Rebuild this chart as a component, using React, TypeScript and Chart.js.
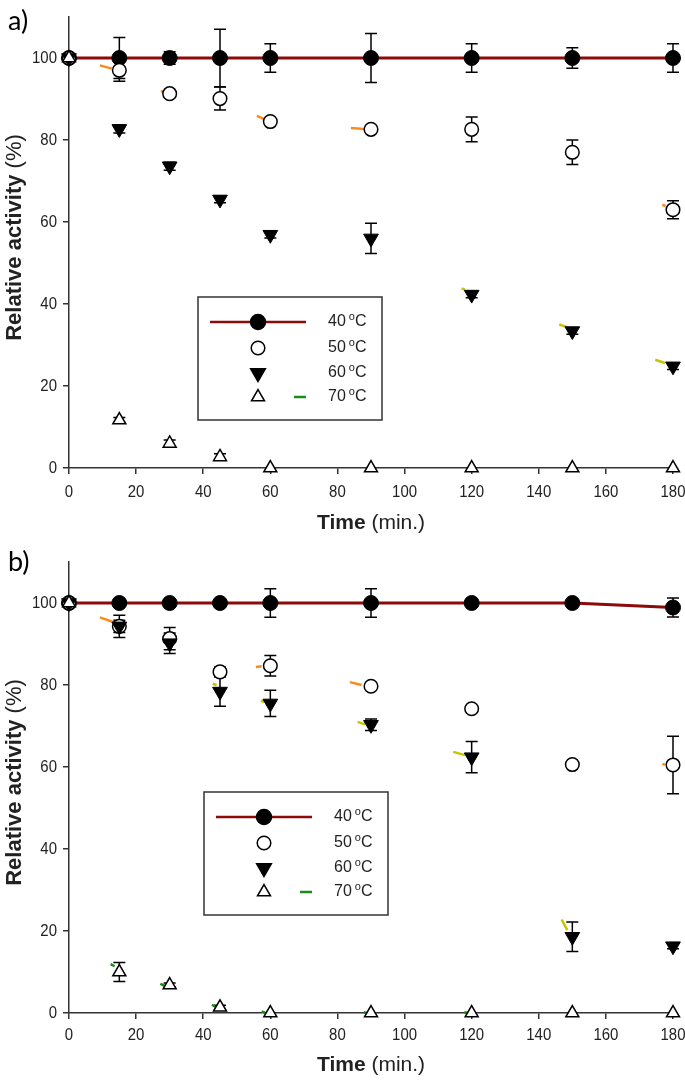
import React, { useEffect, useRef } from 'react';
import { Chart, registerables } from 'chart.js';
Chart.register(...registerables);

// ---------- data ----------
const times = [0, 15, 30, 45, 60, 90, 120, 150, 180];
const xTickValues = [0, 20, 40, 60, 80, 100, 120, 140, 160, 180];
const yTickValues = [0, 20, 40, 60, 80, 100];
const seriesTemps = ['40', '50', '60', '70'];

// panel a
const a40 = [100, 100, 100, 100, 100, 100, 100, 100, 100];
const a40Err = [0, 5, 1.5, 7, 3.5, 6, 3.5, 2.5, 3.5];
const a50 = [100, 97, 91.3, 90.1, 84.5, 82.6, 82.6, 77, 63];
const a50Err = [0, 2.7, 0.5, 2.8, 0.5, 0.5, 3, 3, 2.2];
const a60 = [100, 82.7, 73.6, 65.5, 56.9, 56, 42.3, 33.4, 24.8];
const a60Err = [0, 1, 1, 0.8, 0.8, 3.7, 0.8, 0.8, 0.8];
const a70 = [100, 11.7, 6, 2.7, 0, 0, 0, 0, 0];
const a70Err = [0, 0.6, 0.8, 0.8, 0, 0, 0, 0, 0];
// visible fragments of fitted curves (null = gap)
const aFit50X = [9.2, 12.8, null, 27.4, 28.4, null, 56, 58.2, null, 84, 87.9, null, 176.8, 177.8];
const aFit50Y = [98.2, 97.4, null, 92.0, 91.6, null, 85.9, 85.1, null, 82.9, 82.7, null, 64.2, 63.9];
const aFit60X = [117, 118, null, 146.1, 148.3, null, 174.7, 177.6];
const aFit60Y = [43.8, 43.5, null, 35.0, 34.4, null, 26.4, 25.6];
const aFit70X: (number | null)[] = [];
const aFit70Y: (number | null)[] = [];

// panel b
const b40 = [100, 100, 100, 100, 100, 100, 100, 100, 98.9];
const b40Err = [0, 0, 0, 0, 3.5, 3.5, 0, 0, 2.3];
const b50 = [100, 94.3, 91.3, 83.2, 84.7, 79.7, 74.2, 60.6, 60.5];
const b50Err = [0, 1.5, 2.7, 1.2, 2.5, 0, 0, 0, 7];
const b60 = [100, 94.3, 90.2, 78.4, 75.5, 70.3, 62.4, 18.6, 16.3];
const b60Err = [0, 2.7, 2.5, 3.6, 3.2, 1.4, 3.8, 3.6, 0.6];
const b70 = [100, 10, 6.8, 1.4, 0, 0, 0, 0, 0];
const b70Err = [0, 2.3, 0.5, 0.5, 0, 0, 0, 0, 0];
const bFit50X = [9.2, 13.4, null, 55.7, 57.4, null, 83.7, 87.2, null, 176.8, 177.6];
const bFit50Y = [96.5, 95.3, null, 84.4, 84.6, null, 80.7, 80.0, null, 60.7, 60.6];
const bFit60X = [42.8, 44, null, 57.2, 58.1, null, 86, 88.2, null, 114.5, 118, null, 146.8, 148.5];
const bFit60Y = [80.3, 80.0, null, 76.2, 75.8, null, 71.0, 70.4, null, 63.7, 62.9, null, 22.8, 20.2];
const bFit70X = [12.4, 13.6, null, 27.2, 28.4, null, 42.6, 43.8, null, 57.4, 58.4, null, 87.8, 88.8, null, 117.8, 118.8];
const bFit70Y = [11.9, 11.4, null, 7.1, 6.7, null, 2.0, 1.4, null, 0.4, 0.1, null, 0.2, 0.0, null, 0.2, 0.0];

// ---------- styles ----------
const SANS = "'Liberation Sans', Arial, sans-serif";
const TICK_SCALE = 0.88;
const TEXT = '#222';
const AXIS = '#333';
const RED = '#8b0a0a';
const ORANGE = '#ff8a1c';
const YELLOW = '#c8c400';
const GREEN = '#1a8c1a';

type Frag = [(number | null)[], (number | null)[]];
type Panel = {
  tag: string;
  s40: number[]; e40: number[];
  s50: number[]; e50: number[];
  s60: number[]; e60: number[];
  s70: number[]; e70: number[];
  f50: Frag; f60: Frag; f70: Frag;
  padTop: number;
  xAxisHeight: number;
  tickOffset: number;
  titleOffset: number;
  legend: { left: number; top: number };
  tagY: number;
};

const panelA: Panel = {
  tag: 'a)',
  s40: a40, e40: a40Err, s50: a50, e50: a50Err, s60: a60, e60: a60Err, s70: a70, e70: a70Err,
  f50: [aFit50X, aFit50Y], f60: [aFit60X, aFit60Y], f70: [aFit70X, aFit70Y],
  padTop: 17, xAxisHeight: 72, tickOffset: 24, titleOffset: 55,
  legend: { left: 198, top: 297 },
  tagY: 21,
};
const panelB: Panel = {
  tag: 'b)',
  s40: b40, e40: b40Err, s50: b50, e50: b50Err, s60: b60, e60: b60Err, s70: b70, e70: b70Err,
  f50: [bFit50X, bFit50Y], f60: [bFit60X, bFit60Y], f70: [bFit70X, bFit70Y],
  padTop: 22, xAxisHeight: 67, tickOffset: 22, titleOffset: 52,
  legend: { left: 204, top: 252 },
  tagY: 22,
};

function scaledText(ctx: CanvasRenderingContext2D, text: string, x: number, y: number, align: CanvasTextAlign, sx: number) {
  ctx.save();
  ctx.translate(x, y);
  ctx.scale(sx, 1);
  ctx.textAlign = align;
  ctx.fillText(text, 0, 0);
  ctx.restore();
}

function drawMarker(ctx: CanvasRenderingContext2D, kind: number, x: number, y: number) {
  ctx.save();
  ctx.lineWidth = 1.5;
  ctx.strokeStyle = '#000';
  ctx.beginPath();
  if (kind === 0 || kind === 1) {
    ctx.arc(x, y, kind === 0 ? 7.5 : 6.8, 0, Math.PI * 2);
  } else {
    const r = kind === 2 ? 8.5 : 7.5;
    const rot = kind === 2 ? Math.PI : 0;
    for (let k = 0; k < 3; k++) {
      const a = rot + (k * 2 * Math.PI) / 3;
      const px = x + Math.sin(a) * r;
      const py = y - Math.cos(a) * r;
      if (k === 0) ctx.moveTo(px, py); else ctx.lineTo(px, py);
    }
    ctx.closePath();
  }
  ctx.fillStyle = kind === 0 || kind === 2 ? '#000' : '#fff';
  ctx.fill();
  ctx.stroke();
  ctx.restore();
}

function makeDecor(p: Panel) {
  return {
    id: 'decor',
    beforeDatasetsDraw(chart: any) {
      const { ctx, scales } = chart;
      const xs = scales.x, ys = scales.y;
      const sets: [number[], number[]][] = [[p.s40, p.e40], [p.s50, p.e50], [p.s60, p.e60], [p.s70, p.e70]];
      ctx.save();
      ctx.strokeStyle = '#000';
      ctx.lineWidth = 1.5;
      sets.forEach(([vals, errs]) => {
        vals.forEach((v, i) => {
          const e = errs[i];
          if (!e) return;
          const x = xs.getPixelForValue(times[i]);
          const yt = ys.getPixelForValue(v + e);
          const yb = ys.getPixelForValue(v - e);
          ctx.beginPath();
          ctx.moveTo(x, yt); ctx.lineTo(x, yb);
          ctx.moveTo(x - 6, yt); ctx.lineTo(x + 6, yt);
          ctx.moveTo(x - 6, yb); ctx.lineTo(x + 6, yb);
          ctx.stroke();
        });
      });
      ctx.restore();
    },
    afterDraw(chart: any) {
      const { ctx, chartArea, scales } = chart;
      ctx.save();
      ctx.textBaseline = 'middle';
      // tick labels
      ctx.fillStyle = TEXT;
      ctx.font = `17px ${SANS}`;
      scales.x.ticks.forEach((t: any) => {
        scaledText(ctx, String(t.value), scales.x.getPixelForValue(t.value), chartArea.bottom + p.tickOffset, 'center', TICK_SCALE);
      });
      scales.y.ticks.forEach((t: any) => {
        scaledText(ctx, String(t.value), chartArea.left - 12, scales.y.getPixelForValue(t.value), 'right', TICK_SCALE);
      });
      // panel tag
      ctx.font = "27px Lato, 'Open Sans', sans-serif";
      ctx.textAlign = 'left';
      ctx.fillStyle = '#000';
      ctx.fillText(p.tag, 8, p.tagY);
      ctx.fillStyle = TEXT;
      // x title
      const bold = `bold 21px ${SANS}`;
      const norm = `21px ${SANS}`;
      ctx.font = bold; const w1 = ctx.measureText('Time').width;
      ctx.font = norm; const w2 = ctx.measureText(' (min.)').width;
      const cx = (chartArea.left + chartArea.right) / 2;
      const ty = chartArea.bottom + p.titleOffset;
      const sx = cx - (w1 + w2) / 2;
      ctx.font = bold; ctx.fillText('Time', sx, ty);
      ctx.font = norm; ctx.fillText(' (min.)', sx + w1, ty);
      // y title
      ctx.save();
      const yb = `bold 22px ${SANS}`;
      const yn = `22px ${SANS}`;
      ctx.font = yb; const v1 = ctx.measureText('Relative activity').width;
      ctx.font = yn; const v2 = ctx.measureText(' (%)').width;
      ctx.translate(15, (chartArea.top + chartArea.bottom) / 2 - 5);
      ctx.rotate(-Math.PI / 2);
      const sy = -(v1 + v2) / 2;
      ctx.font = yb; ctx.fillText('Relative activity', sy, 0);
      ctx.font = yn; ctx.fillText(' (%)', sy + v1, 0);
      ctx.restore();
      // legend
      const L = p.legend.left, T = p.legend.top, W = 184, H = 123;
      ctx.strokeStyle = AXIS;
      ctx.lineWidth = 1.5;
      ctx.strokeRect(L, T, W, H);
      const rows = [25, 51, 76, 100];
      ctx.lineWidth = 2.5;
      ctx.strokeStyle = RED;
      ctx.beginPath(); ctx.moveTo(L + 12, T + rows[0]); ctx.lineTo(L + 108, T + rows[0]); ctx.stroke();
      ctx.strokeStyle = GREEN;
      ctx.beginPath(); ctx.moveTo(L + 96, T + rows[3]); ctx.lineTo(L + 108, T + rows[3]); ctx.stroke();
      ctx.textAlign = 'left';
      seriesTemps.forEach((t, k) => {
        const yy = T + rows[k];
        drawMarker(ctx, k, L + 60, yy);
        ctx.fillStyle = TEXT;
        const tx = L + 130;
        ctx.font = `16px ${SANS}`;
        ctx.fillText(t, tx, yy);
        const tw = ctx.measureText(t).width;
        ctx.font = `11px ${SANS}`;
        ctx.fillText('o', tx + tw + 3, yy - 5);
        const ow = ctx.measureText('o').width;
        ctx.font = `16px ${SANS}`;
        ctx.fillText('C', tx + tw + 3 + ow, yy);
      });
      ctx.restore();
    },
  };
}

function buildConfig(p: Panel): any {
  const pts = (vals: number[]) => times.map((t, i) => ({ x: t, y: vals[i] }));
  const frag = (f: Frag) => f[0].map((x, i) => ({ x: x ?? (f[0][i - 1] as number), y: f[1][i] }));
  const fitDs = (f: Frag, color: string) => ({
    label: 'fit', data: frag(f), showLine: true, borderColor: color, borderWidth: 2.5,
    pointRadius: 0, spanGaps: false, order: 5, clip: false, tension: 0,
  });
  const grid = { drawOnChartArea: false, drawTicks: true, tickLength: 6, color: AXIS, lineWidth: 1.5 };
  const border = { display: true, color: AXIS, width: 1.5 };
  return {
    type: 'scatter',
    data: {
      datasets: [
        fitDs(p.f70, GREEN),
        fitDs(p.f60, YELLOW),
        fitDs(p.f50, ORANGE),
        {
          label: '40 °C', data: pts(p.s40), showLine: true, borderColor: RED, borderWidth: 3, tension: 0,
          pointStyle: 'circle', pointRadius: 7.5, pointBackgroundColor: '#000', pointBorderColor: '#000',
          pointBorderWidth: 1, order: 4, clip: false,
        },
        {
          label: '50 °C', data: pts(p.s50), showLine: false, pointStyle: 'circle', pointRadius: 6.8,
          pointBackgroundColor: '#fff', pointBorderColor: '#000', pointBorderWidth: 1.5, order: 3, clip: false,
        },
        {
          label: '60 °C', data: pts(p.s60), showLine: false, pointStyle: 'triangle', pointRotation: 180,
          pointRadius: 8.5, pointBackgroundColor: '#000', pointBorderColor: '#000', pointBorderWidth: 1, order: 2, clip: false,
        },
        {
          label: '70 °C', data: pts(p.s70), showLine: false, pointStyle: 'triangle', pointRadius: 7.5,
          pointBackgroundColor: '#fff', pointBorderColor: '#000', pointBorderWidth: 1.5, order: 1, clip: false,
        },
      ],
    },
    options: {
      responsive: false,
      animation: false,
      events: [],
      layout: { padding: { top: p.padTop, right: 12, left: 0, bottom: 0 } },
      plugins: { legend: { display: false }, tooltip: { enabled: false } },
      scales: {
        x: {
          type: 'linear', min: 0, max: 180,
          afterBuildTicks: (s: any) => { s.ticks = xTickValues.map((v) => ({ value: v })); },
          afterFit: (s: any) => { s.height = p.xAxisHeight; s.paddingLeft = 0; s.paddingRight = 0; },
          ticks: { display: false, autoSkip: false },
          grid, border,
        },
        y: {
          type: 'linear', min: 0, max: 110,
          afterBuildTicks: (s: any) => { s.ticks = yTickValues.map((v) => ({ value: v })); },
          afterFit: (s: any) => { s.width = 69; s.paddingTop = 0; s.paddingBottom = 0; },
          ticks: { display: false },
          grid, border,
        },
      },
    },
    plugins: [makeDecor(p)],
  };
}

function PanelChart({ p }: { p: Panel }) {
  const ref = useRef<HTMLCanvasElement>(null);
  useEffect(() => {
    const chart = new Chart(ref.current as HTMLCanvasElement, buildConfig(p));
    return () => chart.destroy();
  }, [p]);
  return <canvas ref={ref} width={685} height={540} style={{ display: 'block', width: 685, height: 540 }} />;
}

export default function App() {
  return (
    <div style={{ position: 'absolute', left: 0, top: 0, width: 685, height: 1080, background: '#fff' }}>
      <PanelChart p={panelA} />
      <PanelChart p={panelB} />
    </div>
  );
}
